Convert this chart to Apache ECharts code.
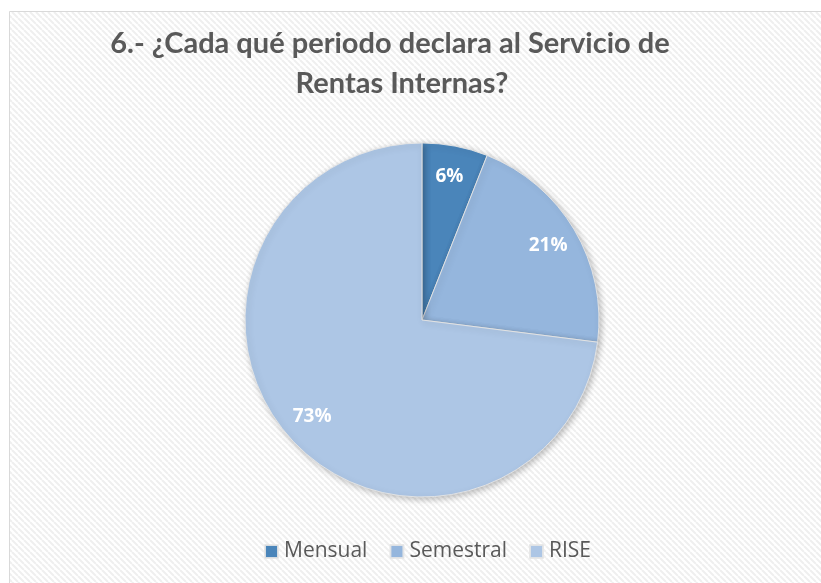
<!DOCTYPE html>
<html><head><meta charset="utf-8">
<script src="https://cdn.jsdelivr.net/npm/echarts@6/dist/echarts.min.js"></script>
<style>html,body{margin:0;padding:0;background:#fff}#c{width:821px;height:583px}</style>
</head><body><div id="c"></div>
<script>
const titleLines = ['6.- ¿Cada qué periodo declara al Servicio de', 'Rentas Internas?'];
const categories = ['Mensual', 'Semestral', 'RISE'];
const values = [6, 21, 73];
const colors = ['#4a85ba', '#95b6dd', '#adc6e5'];

// stripe pattern for background
const pc = document.createElement('canvas');
pc.width = 6; pc.height = 6;
const px = pc.getContext('2d');
px.fillStyle = '#ffffff'; px.fillRect(0,0,6,6);
px.strokeStyle = '#efefef'; px.lineWidth = 2;
px.beginPath();
for (let k = -6; k <= 12; k += 6) { px.moveTo(k, 0); px.lineTo(k + 6, 6); }
px.stroke();

const titleStyle = { fontFamily: 'Lato', fontWeight: 'bold', fontSize: 29, color: '#595959' };
const data = categories.map((c, i) => ({ name: c, value: values[i], itemStyle: { color: colors[i] } }));
const chart = echarts.init(document.getElementById('c'));
chart.setOption({
  backgroundColor: '#ffffff',
  animation: false,
  graphic: [{
    type: 'rect', z: -10, silent: true,
    shape: { x: 9.5, y: 11.5, width: 830, height: 600 },
    style: { fill: { image: pc, repeat: 'repeat' }, stroke: '#d9d9d9', lineWidth: 1 }
  }],
  title: [
    { text: titleLines[0], left: 385, top: 24, textAlign: 'center', textStyle: titleStyle },
    { text: titleLines[1], left: 397, top: 64, textAlign: 'center', textStyle: titleStyle }
  ],
  legend: {
    data: categories, top: 536, left: 259, itemWidth: 13, itemHeight: 13, itemGap: 22,
    icon: 'rect',
    textStyle: { fontFamily: 'Open Sans', fontSize: 21, color: '#595959', padding: [0,0,0,1] }
  },
  series: [{
    type: 'pie', center: [422, 320], radius: [0, 177], startAngle: 90, clockwise: true,
    data: data, label: { show: false }, labelLine: { show: false },
    itemStyle: { borderColor: 'rgba(230,230,230,0.9)', borderWidth: 1, shadowBlur: 6, shadowColor: 'rgba(0,0,0,0.25)', shadowOffsetX: 2, shadowOffsetY: 2 },
    emphasis: { disabled: true }
  }, {
    type: 'pie', center: [422, 320], radius: [110, 177], startAngle: 90, clockwise: true, silent: true,
    data: categories.map((c, i) => ({ name: c, value: values[i] })),
    itemStyle: { color: 'rgba(0,0,0,0)' },
    label: { show: true, position: 'inside', formatter: '{d}%', color: '#ffffff', fontFamily: 'Open Sans', fontWeight: 'bold', fontSize: 19 },
    labelLine: { show: false }, emphasis: { disabled: true }
  }]
});
</script></body></html>
